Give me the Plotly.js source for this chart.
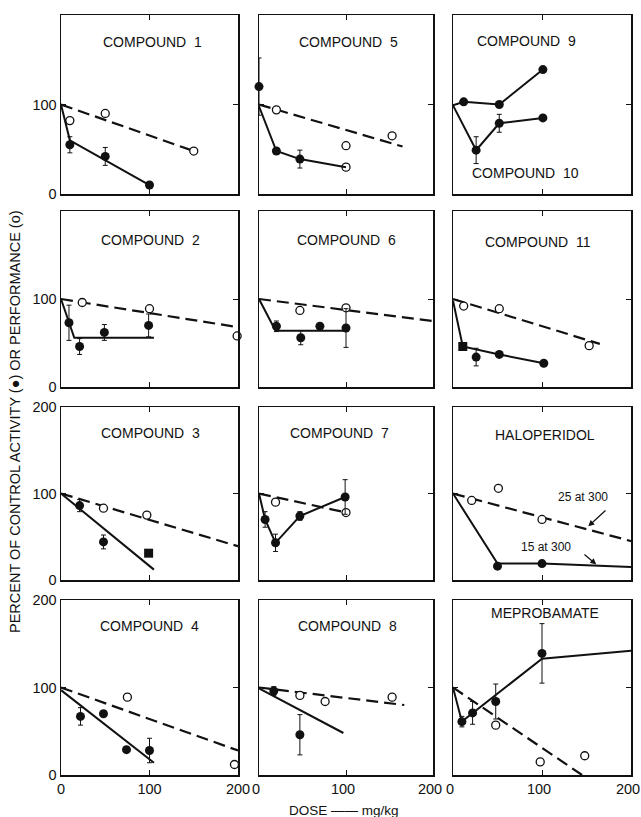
<!DOCTYPE html>
<html>
<head>
<meta charset="utf-8">
<script src="https://cdn.plot.ly/plotly-3.0.1.min.js"></script>
<style>html,body{margin:0;padding:0;background:#fff}#chart{width:641px;height:817px}</style>
</head>
<body>
<div id="chart"></div>
<script>
// ---------- DATA ----------
// Compound 1
const c1ActDose = [10, 50, 100];
const c1Act = [55, 42, 10];
const c1ActErr = [9, 10, 0];
const c1ActFitDose = [0, 10, 100];
const c1ActFit = [100, 60, 10];
const c1PerfDose = [10, 50, 150];
const c1Perf = [82, 90, 48];
const c1PerfFitDose = [0, 150];
const c1PerfFit = [100, 48];
// Compound 5
const c5ActDose = [0, 20, 47];
const c5Act = [120, 48, 39];
const c5ActErr = [32, 0, 10];
const c5ActFitDose = [0, 20, 47, 100];
const c5ActFit = [98, 48, 39, 30];
const c5PerfDose = [20, 100, 100, 153];
const c5Perf = [94, 54, 30, 65];
const c5PerfFitDose = [0, 165];
const c5PerfFit = [100, 53];
// Compound 9 and 10
const c9ActDose = [12, 52, 101];
const c9Act = [103, 100, 139];
const c9ActErr = [0, 0, 0];
const c9ActFitDose = [0, 12, 52, 101];
const c9ActFit = [99, 103, 100, 139];
const c10ActDose = [26, 52, 101];
const c10Act = [49, 79, 85];
const c10ActErr = [15, 10, 0];
const c10ActFitDose = [0, 26, 52, 101];
const c10ActFit = [99, 49, 79, 85];
// Compound 2
const c2ActDose = [9, 21, 49, 99];
const c2Act = [73, 46, 62, 70];
const c2ActErr = [20, 9, 9, 13];
const c2ActFitDose = [0, 15, 105];
const c2ActFit = [100, 56, 56];
const c2PerfDose = [24, 100, 199];
const c2Perf = [96, 89, 58];
const c2PerfFitDose = [0, 200];
const c2PerfFit = [100, 68];
// Compound 6
const c6ActDose = [20, 48, 70, 100];
const c6Act = [69, 56, 69, 67];
const c6ActErr = [6, 8, 0, 22];
const c6ActFitDose = [0, 19, 100];
const c6ActFit = [100, 64, 64];
const c6PerfDose = [47, 100];
const c6Perf = [87, 90];
const c6PerfFitDose = [0, 200];
const c6PerfFit = [100, 75];
// Compound 11
const c11ActDose = [11, 26, 52, 102];
const c11Act = [46, 34, 37, 27];
const c11ActErr = [0, 10, 0, 0];
const c11ActFitDose = [0, 11, 52, 102];
const c11ActFit = [98, 46, 37, 27];
const c11PerfDose = [12, 52, 153];
const c11Perf = [92, 89, 47];
const c11PerfFitDose = [0, 165];
const c11PerfFit = [100, 49];
// Compound 3
const c3ActDose = [21, 48, 99];
const c3Act = [86, 44, 31];
const c3ActErr = [7, 8, 0];
const c3ActFitDose = [0, 105];
const c3ActFit = [100, 12];
const c3PerfDose = [48, 97, 201];
const c3Perf = [83, 75, 39];
const c3PerfFitDose = [0, 200];
const c3PerfFit = [100, 39];
// Compound 7
const c7ActDose = [7, 19, 47, 99];
const c7Act = [70, 43, 74, 96];
const c7ActErr = [9, 10, 5, 20];
const c7ActFitDose = [0, 7, 19, 47, 99];
const c7ActFit = [100, 70, 43, 74, 96];
const c7PerfDose = [19, 100];
const c7Perf = [90, 78];
const c7PerfFitDose = [0, 100];
const c7PerfFit = [100, 78];
// Haloperidol
const halActDose = [50, 100];
const halAct = [16, 19];
const halActErr = [0, 0];
const halActFitDose = [0, 50, 100, 200];
const halActFit = [100, 19, 19, 15];
const halPerfDose = [21, 51, 100];
const halPerf = [92, 106, 70];
const halPerfFitDose = [0, 200];
const halPerfFit = [100, 45];
// Compound 4
const c4ActDose = [22, 48, 74, 100];
const c4Act = [67, 70, 29, 28];
const c4ActErr = [10, 0, 0, 14];
const c4ActFitDose = [0, 105];
const c4ActFit = [97, 14];
const c4PerfDose = [75, 196];
const c4Perf = [89, 12];
const c4PerfFitDose = [0, 200];
const c4PerfFit = [100, 28];
// Compound 8
const c8ActDose = [17, 47];
const c8Act = [96, 46];
const c8ActErr = [5, 23];
const c8ActFitDose = [0, 97];
const c8ActFit = [99, 48];
const c8PerfDose = [47, 76, 153];
const c8Perf = [91, 84, 89];
const c8PerfFitDose = [0, 167];
const c8PerfFit = [100, 80];
// Meprobamate
const mepActDose = [10, 22, 48, 100];
const mepAct = [61, 71, 84, 139];
const mepActErr = [6, 13, 20, 34];
const mepActFitDose = [0, 10, 100, 200];
const mepActFit = [100, 61, 133, 142];
const mepPerfDose = [48, 98, 148];
const mepPerf = [57, 15, 22];
const mepPerfFitDose = [0, 145];
const mepPerfFit = [100, 0];

const doseTicks = [0, 100, 200];
const doseTickText = ['0', '100', '200'];
const pctTicks = [0, 100, 200];

// ---------- PANELS ----------
const panels = [
  {title:'COMPOUND\u00a0\u00a01', row:0, col:0, tx:103, ty:170,
   act:[[c1ActDose,c1Act,c1ActErr,c1ActFitDose,c1ActFit]], perf:[c1PerfDose,c1Perf,c1PerfFitDose,c1PerfFit]},
  {title:'COMPOUND\u00a0\u00a05', row:0, col:1, tx:103, ty:170,
   act:[[c5ActDose,c5Act,c5ActErr,c5ActFitDose,c5ActFit]], perf:[c5PerfDose,c5Perf,c5PerfFitDose,c5PerfFit]},
  {title:'COMPOUND\u00a0\u00a09', row:0, col:2, tx:83, ty:171,
   act:[[c9ActDose,c9Act,c9ActErr,c9ActFitDose,c9ActFit],[c10ActDose,c10Act,c10ActErr,c10ActFitDose,c10ActFit]], perf:null,
   extra:{text:'COMPOUND\u00a0\u00a010', x:81, y:24}},
  {title:'COMPOUND\u00a0\u00a02', row:1, col:0, tx:101, ty:167,
   act:[[c2ActDose,c2Act,c2ActErr,c2ActFitDose,c2ActFit]], perf:[c2PerfDose,c2Perf,c2PerfFitDose,c2PerfFit]},
  {title:'COMPOUND\u00a0\u00a06', row:1, col:1, tx:101, ty:167,
   act:[[c6ActDose,c6Act,c6ActErr,c6ActFitDose,c6ActFit]], perf:[c6PerfDose,c6Perf,c6PerfFitDose,c6PerfFit]},
  {title:'COMPOUND\u00a0\u00a011', row:1, col:2, tx:96, ty:165,
   act:[[c11ActDose,c11Act,c11ActErr,c11ActFitDose,c11ActFit]], perf:[c11PerfDose,c11Perf,c11PerfFitDose,c11PerfFit], squareFirst:true},
  {title:'COMPOUND\u00a0\u00a03', row:2, col:0, tx:101, ty:170,
   act:[[c3ActDose,c3Act,c3ActErr,c3ActFitDose,c3ActFit]], perf:[c3PerfDose,c3Perf,c3PerfFitDose,c3PerfFit], squareLast:true},
  {title:'COMPOUND\u00a0\u00a07', row:2, col:1, tx:93, ty:170,
   act:[[c7ActDose,c7Act,c7ActErr,c7ActFitDose,c7ActFit]], perf:[c7PerfDose,c7Perf,c7PerfFitDose,c7PerfFit]},
  {title:'HALOPERIDOL', row:2, col:2, tx:103, ty:168,
   act:[[halActDose,halAct,halActErr,halActFitDose,halActFit]], perf:[halPerfDose,halPerf,halPerfFitDose,halPerfFit], halo:true},
  {title:'COMPOUND\u00a0\u00a04', row:3, col:0, tx:100, ty:170,
   act:[[c4ActDose,c4Act,c4ActErr,c4ActFitDose,c4ActFit]], perf:[c4PerfDose,c4Perf,c4PerfFitDose,c4PerfFit]},
  {title:'COMPOUND\u00a0\u00a08', row:3, col:1, tx:102, ty:170,
   act:[[c8ActDose,c8Act,c8ActErr,c8ActFitDose,c8ActFit]], perf:[c8PerfDose,c8Perf,c8PerfFitDose,c8PerfFit]},
  {title:'MEPROBAMATE', row:3, col:2, tx:103, ty:185,
   act:[[mepActDose,mepAct,mepActErr,mepActFitDose,mepActFit]], perf:[mepPerfDose,mepPerf,mepPerfFitDose,mepPerfFit]}
];

// ---------- GEOMETRY ----------
const W = 641, H = 817;
const colPx = [[61,238],[259,433],[453,631]];
const rowPx = [[15,194],[211,387],[407,580],[600,775]];
const labelShift = [0, -3, -3];
const FONT = 'Liberation Sans, Arial, Helvetica, sans-serif';

const data = [];
const layout = {
  width: W, height: H,
  margin:{l:0,r:0,t:0,b:0},
  paper_bgcolor:'#fff', plot_bgcolor:'#fff',
  showlegend:false,
  font:{family:FONT, color:'#111', size:14},
  annotations:[]
};

panels.forEach((p, i) => {
  const n = i + 1;
  const xa = 'x' + n, ya = 'y' + n;
  const xk = 'xaxis' + n, yk = 'yaxis' + n;
  const cp = colPx[p.col], rp = rowPx[p.row];
  layout[xk] = {
    domain:[cp[0]/W, cp[1]/W], range:[0,200], anchor:ya,
    showline:true, linewidth:1.5, linecolor:'#111', mirror:'ticks',
    ticks:'inside', ticklen:5, tickwidth:1, tickcolor:'#111',
    tickvals:doseTicks, ticktext:doseTickText,
    showticklabels: p.row === 3, ticklabeloverflow:'allow',
    ticklabelshift: labelShift[p.col],
    tickfont:{size:14.5, family:FONT, color:'#111'},
    showgrid:false, zeroline:false, fixedrange:true
  };
  const yLabels = p.row >= 2 ? ['0','100','200'] : ['0','100',''];
  layout[yk] = {
    domain:[1 - rp[1]/H, 1 - rp[0]/H], range:[0,200], anchor:xa,
    showline:true, linewidth:1.5, linecolor:'#111', mirror:'ticks',
    ticks:'inside', ticklen:5, tickwidth:1, tickcolor:'#111',
    tickvals:pctTicks, ticktext:yLabels,
    showticklabels: p.col === 0, ticklabeloverflow:'allow',
    tickfont:{size:14.5, family:FONT, color:'#111'},
    showgrid:false, zeroline:false, fixedrange:true
  };

  // performance (open circles, dashed fit)
  if (p.perf) {
    const [pd, pv, pfd, pfv] = p.perf;
    data.push({x:pfd, y:pfv, xaxis:xa, yaxis:ya, mode:'lines', type:'scatter',
      line:{color:'#111', width:2.2, dash:'12px,6px'}, hoverinfo:'skip'});
    data.push({x:pd, y:pv, xaxis:xa, yaxis:ya, mode:'markers', type:'scatter',
      marker:{symbol:'circle', size:8, color:'#fff', line:{color:'#111', width:1.3}}, cliponaxis:false});
  }
  // activity (filled circles, solid fit)
  p.act.forEach(a => {
    const [ad, av, ae, afd, afv] = a;
    data.push({x:afd, y:afv, xaxis:xa, yaxis:ya, mode:'lines', type:'scatter',
      line:{color:'#111', width:2}, hoverinfo:'skip'});
    const symbols = ad.map((d, k) => {
      if (p.squareFirst && k === 0) return 'square';
      if (p.squareLast && k === ad.length - 1) return 'square';
      return 'circle';
    });
    data.push({x:ad, y:av, xaxis:xa, yaxis:ya, mode:'markers', type:'scatter',
      marker:{symbol:symbols, size:9, color:'#111', line:{color:'#111', width:0}},
      error_y:{type:'data', array:ae, visible:true, color:'#111', thickness:1, width:2.5},
      cliponaxis:false});
  });

  layout.annotations.push({xref:xa, yref:ya, x:p.tx, y:p.ty, text:p.title, showarrow:false,
    font:{size:14, family:FONT, color:'#111'}, xanchor:'center', yanchor:'middle'});
  if (p.extra) {
    layout.annotations.push({xref:xa, yref:ya, x:p.extra.x, y:p.extra.y, text:p.extra.text, showarrow:false,
      font:{size:14, family:FONT, color:'#111'}, xanchor:'center', yanchor:'middle'});
  }
  if (p.halo) {
    layout.annotations.push({xref:xa, yref:ya, x:146, y:96, text:'25 at 300', showarrow:false,
      font:{size:12, family:FONT, color:'#111'}});
    layout.annotations.push({xref:xa, yref:ya, x:152, y:62, ax:173, ay:82, axref:xa, ayref:ya,
      text:'', showarrow:true, arrowhead:2, arrowsize:1, arrowwidth:1.2, arrowcolor:'#111', standoff:0});
    layout.annotations.push({xref:xa, yref:ya, x:105, y:38, text:'15 at 300', showarrow:false,
      font:{size:12, family:FONT, color:'#111'}});
    layout.annotations.push({xref:xa, yref:ya, x:161, y:18, ax:146, ay:31, axref:xa, ayref:ya,
      text:'', showarrow:true, arrowhead:2, arrowsize:1, arrowwidth:1.2, arrowcolor:'#111', standoff:0});
  }
});

// Axis titles
layout.annotations.push({xref:'paper', yref:'paper', x:15/W, y:1 - 422/H,
  text:'PERCENT OF CONTROL ACTIVITY (\u25CF) OR PERFORMANCE (o)', textangle:-90, showarrow:false,
  font:{size:14.5, family:FONT, color:'#111'}, xanchor:'center', yanchor:'middle'});
layout.annotations.push({xref:'paper', yref:'paper', x:344/W, y:1 - 810/H,
  text:'DOSE \u2014\u2014 mg/kg', showarrow:false,
  font:{size:13.5, family:FONT, color:'#111'}, xanchor:'center', yanchor:'middle'});

Plotly.newPlot('chart', data, layout, {displayModeBar:false, staticPlot:true});
</script>
</body>
</html>
